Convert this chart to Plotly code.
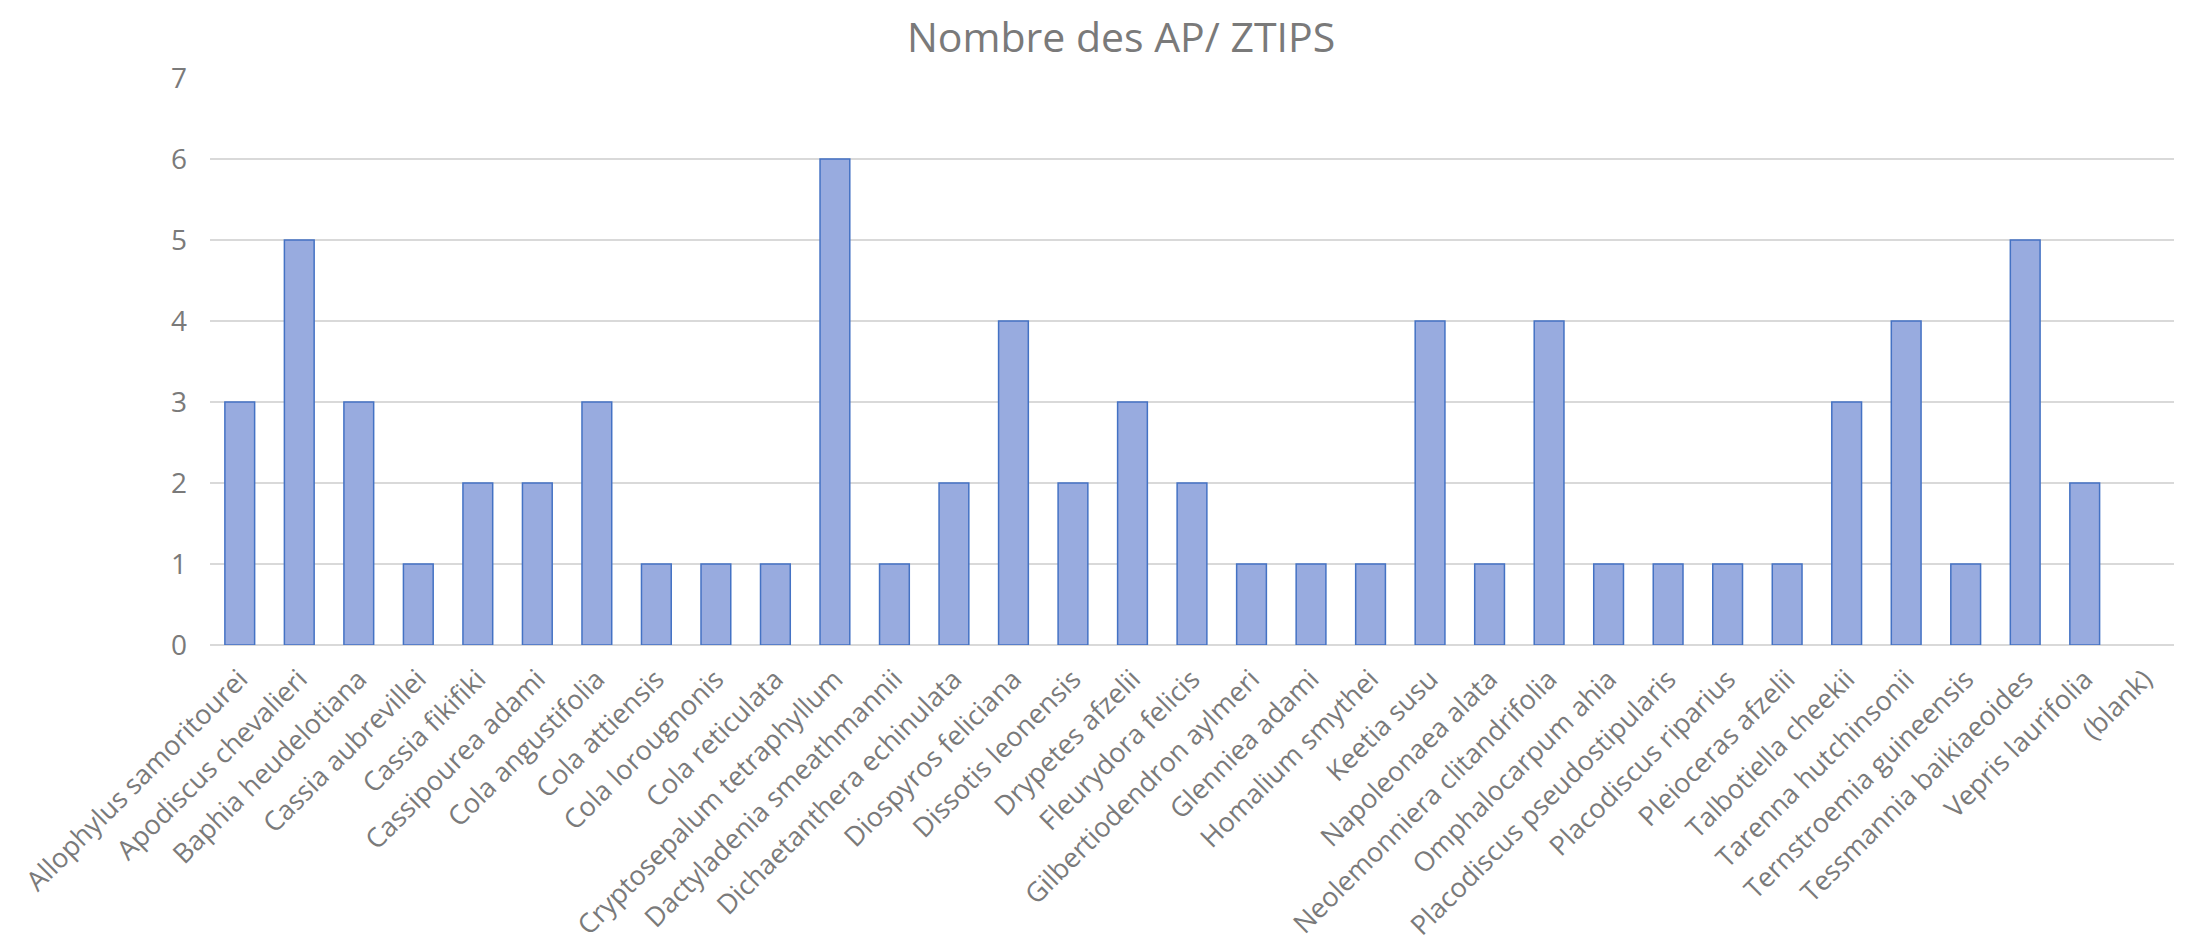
import plotly.graph_objects as go

categories = [
    "Allophylus samoritourei", "Apodiscus chevalieri", "Baphia heudelotiana",
    "Cassia aubrevillei", "Cassia fikifiki", "Cassipourea adami",
    "Cola angustifolia", "Cola attiensis", "Cola lorougnonis", "Cola reticulata",
    "Cryptosepalum tetraphyllum", "Dactyladenia smeathmannii",
    "Dichaetanthera echinulata", "Diospyros feliciana", "Dissotis leonensis",
    "Drypetes afzelii", "Fleurydora felicis", "Gilbertiodendron aylmeri",
    "Glenniea adami", "Homalium smythei", "Keetia susu", "Napoleonaea alata",
    "Neolemonniera clitandrifolia", "Omphalocarpum ahia",
    "Placodiscus pseudostipularis", "Placodiscus riparius", "Pleioceras afzelii",
    "Talbotiella cheekii", "Tarenna hutchinsonii", "Ternstroemia guineensis",
    "Tessmannia baikiaeoides", "Vepris laurifolia", "(blank)",
]
values = [3, 5, 3, 1, 2, 2, 3, 1, 1, 1, 6, 1, 2, 4, 2, 3, 2, 1, 1, 1, 4, 1, 4,
          1, 1, 1, 1, 3, 4, 1, 5, 2, None]
y_ticks = [0, 1, 2, 3, 4, 5, 6, 7]
title = "Nombre des AP/ ZTIPS"

gray = "#7a7a7a"
fig = go.Figure(go.Bar(
    x=categories, y=values,
    marker=dict(color="#98abdf", line=dict(color="#4472c4", width=1.5)),
))
fig.update_layout(
    width=2180, height=942,
    margin=dict(l=202, r=14, t=70, b=305),
    paper_bgcolor="white", plot_bgcolor="white",
    bargap=0.5,
    showlegend=False,
    font=dict(family="Open Sans", color=gray),
    title=dict(text=title, x=(1121 - 8) / 2180, xanchor="center", xref="container",
               y=1 - 30 / 942, yanchor="middle", yref="container",
               font=dict(size=41, color=gray, family="Open Sans")),
)
fig.update_xaxes(tickangle=-45, tickfont=dict(size=27, color=gray),
                 ticklabelstandoff=12,
                 showgrid=False, showline=False, ticks="", automargin=False)
fig.update_yaxes(range=[0, 7], tickvals=y_ticks, showgrid=True,
                 gridcolor="#d9d9d9", gridwidth=1.5, zeroline=True,
                 zerolinecolor="#d9d9d9", zerolinewidth=1.5,
                 tickfont=dict(size=28, color=gray), ticks="", ticklen=0,
                 ticklabelstandoff=22,
                 showline=False, automargin=False)
fig.write_html("out.html")
